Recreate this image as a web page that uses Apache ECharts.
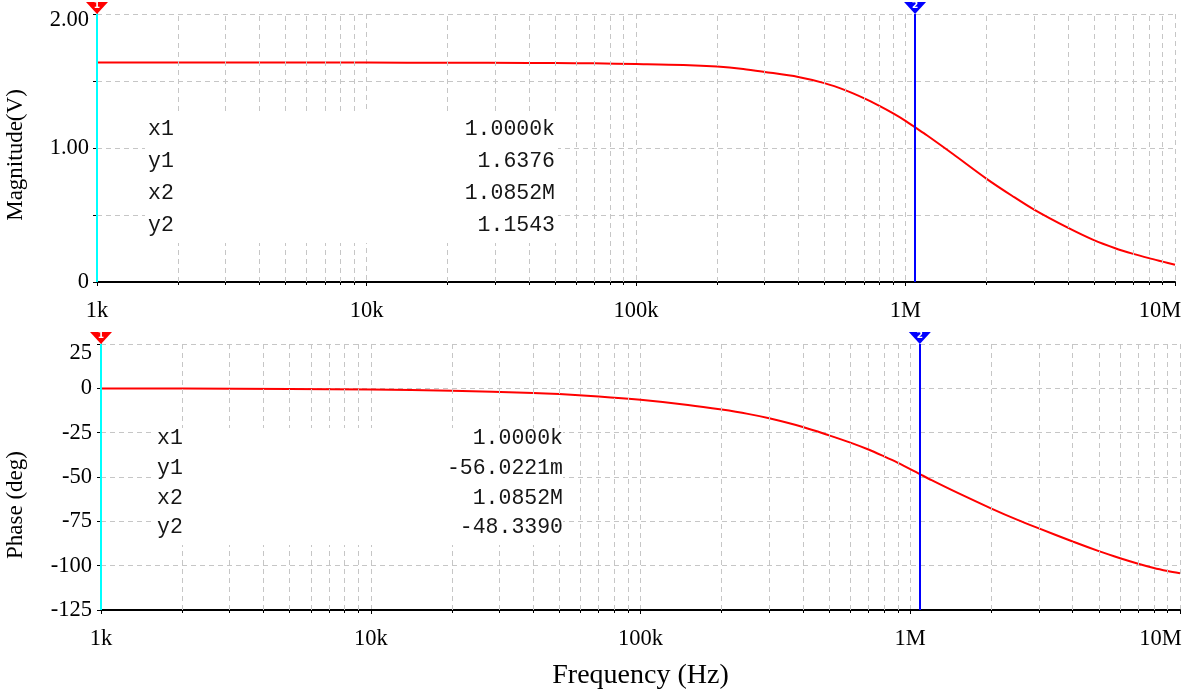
<!DOCTYPE html>
<html>
<head>
<meta charset="utf-8">
<title>Frequency response</title>
<script src="https://cdn.jsdelivr.net/npm/echarts@6/dist/echarts.min.js"></script>
<style>
  html, body { margin: 0; padding: 0; background: #fff; }
  #chart { width: 1186px; height: 697px; }
</style>
</head>
<body>
<div id="chart"></div>
<script>
// Sweep frequencies (Hz)
const freqHz = [1e3, 2e3, 5e3, 1e4, 2e4, 4e4, 5e4, 7e4, 1e5, 1.5e5, 2e5, 2.5e5, 3e5, 4e5, 5e5,
  6e5, 7e5, 8e5, 9e5, 1e6, 1.0852e6, 1.2e6, 1.5e6, 2e6, 2.5e6, 3e6, 4e6, 5e6, 6e6, 7e6, 8e6, 9e6, 1e7];

// Output magnitude (V)
const magnitudeV = [1.6376, 1.6375, 1.6374, 1.6372, 1.6366, 1.6352, 1.6342, 1.6318, 1.627, 1.620,
  1.608, 1.590, 1.568, 1.530, 1.484, 1.430, 1.372, 1.314, 1.258, 1.203, 1.1543, 1.095, 0.955,
  0.770, 0.640, 0.540, 0.405, 0.312, 0.252, 0.210, 0.178, 0.152, 0.129];

// Output phase (deg)
const phaseDeg = [-0.0560221, -0.12, -0.32, -0.65, -1.3, -2.6, -3.25, -4.6, -6.5, -9.4,
  -12.0, -14.4, -16.9, -21.8, -26.5, -30.6, -34.5, -38.4, -42.0, -45.5, -48.339, -51.8, -59.0,
  -67.8, -74.2, -79.0, -86.4, -91.8, -95.8, -98.9, -101.3, -103.0, -104.3];

// Cursor readouts
const cursorX = [1000, 1085200];
const magCursorY = [1.6376, 1.1543];
const phaseCursorY = [-0.0560221, -48.3390];
const cursorNames = ['x1', 'y1', 'x2', 'y2'];

// Axis ticks and labels
const decadeLabels = ['1k', '10k', '100k', '1M', '10M'];
const magLabelValues = [0, 1, 2];
const magLabelText = ['0', '1.00', '2.00'];
const minorMultipliers = [2, 3, 4, 5, 6, 7, 8, 9];
const decadesHz = [1e3, 1e4, 1e5, 1e6];

const SERIF = '"Liberation Serif", "Times New Roman", serif';
const MONO = '"Liberation Mono", "Courier New", monospace';
const GRID_GRAY = '#c6c6c6';

function eng(v) {
  const a = Math.abs(v);
  let d = v, s = '';
  if (a >= 1e6) { d = v / 1e6; s = 'M'; }
  else if (a >= 1e3) { d = v / 1e3; s = 'k'; }
  else if (a > 0 && a < 0.1) { d = v * 1e3; s = 'm'; }
  return d.toFixed(4) + s;
}

function decadeLabel(v) {
  const i = Math.round(Math.log10(v)) - 3;
  const t = decadeLabels[i];
  return i === decadeLabels.length - 1 ? '{end|' + t + '}' : t;
}

const minorGridHz = [];
decadesHz.forEach(d => minorMultipliers.forEach(m => minorGridHz.push(d * m)));

function xAxisFor(idx, endPad) {
  return {
    type: 'log', logBase: 10, gridIndex: idx, min: 1e3, max: 1e7,
    axisLine: { onZero: false, lineStyle: { color: '#000', width: 2 } },
    axisTick: { show: true, length: 4, lineStyle: { color: '#000', width: 1 } },
    minorTick: { show: true, splitNumber: 9, length: 3, lineStyle: { color: '#000' } },
    splitLine: { show: true, lineStyle: { color: GRID_GRAY, type: [5, 4], width: 1 } },
    axisLabel: {
      formatter: decadeLabel, margin: 18, color: '#000', fontFamily: SERIF, fontSize: 22.5,
      rich: { end: { padding: [0, endPad, 0, 0], color: '#000', fontFamily: SERIF, fontSize: 22.5 } }
    }
  };
}

const gridMarkLine = {
  silent: true, symbol: ['none', 'none'], label: { show: false },
  lineStyle: { color: GRID_GRAY, type: [5, 4], width: 1 },
  data: minorGridHz.map(f => ({ xAxis: f }))
};

function cursorSeries(xi, yMax) {
  return {
    type: 'line', xAxisIndex: xi, yAxisIndex: xi, data: [], z: 5, silent: true,
    markLine: {
      silent: true, symbol: ['none', 'none'], label: { show: false },
      lineStyle: { type: 'solid', width: 2 },
      data: [
        { xAxis: cursorX[0], lineStyle: { color: '#00ffff', type: 'solid', width: 2 } },
        { xAxis: cursorX[1], lineStyle: { color: '#0000ff', type: 'solid', width: 2 } }
      ]
    },
    markPoint: {
      silent: true, symbol: 'triangle', symbolSize: [22, 12], symbolRotate: 180, symbolOffset: [0, -6],
      label: { show: true, position: 'inside', color: '#fff', fontSize: 9, fontWeight: 'bold', offset: [0, -2], fontFamily: 'DejaVu Sans' },
      data: [
        { coord: [cursorX[0], yMax], itemStyle: { color: '#ff0000' }, label: { formatter: '1' } },
        { coord: [cursorX[1], yMax], itemStyle: { color: '#0000ff' }, label: { formatter: '2' } }
      ]
    }
  };
}

function readout(x0, x1, rows, yVals) {
  const els = [];
  rows.forEach((r, i) => {
    els.push({ type: 'text', z: 101, style: { text: cursorNames[i], x: x0, y: yVals[i], font: '21.5px ' + MONO, fill: '#161616', align: 'left', verticalAlign: 'middle', textAlign: 'left', textVerticalAlign: 'middle' } });
    els.push({ type: 'text', z: 101, style: { text: r, x: x1, y: yVals[i], font: '21.5px ' + MONO, fill: '#161616', align: 'right', verticalAlign: 'middle', textAlign: 'right', textVerticalAlign: 'middle' } });
  });
  return els;
}

const magRows = [eng(cursorX[0]), eng(magCursorY[0]), eng(cursorX[1]), eng(magCursorY[1])];
const phaseRows = [eng(cursorX[0]), eng(phaseCursorY[0]), eng(cursorX[1]), eng(phaseCursorY[1])];

const option = {
  animation: false,
  backgroundColor: '#ffffff',
  grid: [
    { left: 97, top: 14, right: 11, height: 268, outerBoundsMode: 'none', containLabel: false },
    { left: 101, top: 344, right: 6, height: 266, outerBoundsMode: 'none', containLabel: false }
  ],
  xAxis: [
    xAxisFor(0, 30),
    Object.assign(xAxisFor(1, 39), {
      name: 'Frequency (Hz)', nameLocation: 'middle', nameGap: 52,
      nameTextStyle: { color: '#000', fontFamily: SERIF, fontSize: 28 }
    })
  ],
  yAxis: [
    {
      type: 'value', gridIndex: 0, min: 0, max: 2, interval: 0.5,
      name: 'Magnitude(V)', nameLocation: 'middle', nameGap: 70,
      nameTextStyle: { color: '#000', fontFamily: SERIF, fontSize: 23, padding: [0, 14, 0, 0] },
      axisLine: { show: true, lineStyle: { color: '#000', width: 1 } },
      axisTick: { show: true, length: 4, lineStyle: { color: '#000' } },
      splitLine: { show: true, lineStyle: { color: GRID_GRAY, type: [5, 4], width: 1 } },
      axisLabel: {
        margin: 8, color: '#000', fontFamily: SERIF, fontSize: 22.5,
        formatter: v => {
          const k = magLabelValues.indexOf(v);
          if (k < 0) return '';
          return v === 2 ? '{top|' + magLabelText[k] + '}' : magLabelText[k];
        },
        rich: { top: { padding: [12, 0, 0, 0], color: '#000', fontFamily: SERIF, fontSize: 22.5 } }
      }
    },
    {
      type: 'value', gridIndex: 1, min: -125, max: 25, interval: 25,
      name: 'Phase (deg)', nameLocation: 'middle', nameGap: 74,
      nameTextStyle: { color: '#000', fontFamily: SERIF, fontSize: 23, padding: [0, 56, 0, 0] },
      axisLine: { show: true, lineStyle: { color: '#000', width: 1 } },
      axisTick: { show: true, length: 4, lineStyle: { color: '#000' } },
      splitLine: { show: true, lineStyle: { color: GRID_GRAY, type: [5, 4], width: 1 } },
      axisLabel: {
        margin: 9, color: '#000', fontFamily: SERIF, fontSize: 22.5,
        formatter: v => v === 25 ? '{top|25}' : String(v),
        rich: { top: { padding: [18, 0, 0, 0], color: '#000', fontFamily: SERIF, fontSize: 22.5 } }
      }
    }
  ],
  series: [
    { type: 'line', xAxisIndex: 0, yAxisIndex: 0, data: [], z: 1, silent: true, markLine: gridMarkLine },
    { type: 'line', xAxisIndex: 1, yAxisIndex: 1, data: [], z: 1, silent: true, markLine: gridMarkLine },
    {
      name: 'Magnitude', type: 'line', xAxisIndex: 0, yAxisIndex: 0, z: 3,
      data: freqHz.map((f, i) => [f, magnitudeV[i]]),
      showSymbol: false, smooth: 0.3,
      lineStyle: { color: '#ff0000', width: 2 }
    },
    {
      name: 'Phase', type: 'line', xAxisIndex: 1, yAxisIndex: 1, z: 3,
      data: freqHz.map((f, i) => [f, phaseDeg[i]]),
      showSymbol: false, smooth: 0.3,
      lineStyle: { color: '#ff0000', width: 2 }
    },
    cursorSeries(0, 2),
    cursorSeries(1, 25)
  ],
  graphic: [
    { type: 'rect', z: 100, silent: true, shape: { x: 145, y: 113, width: 413, height: 130 }, style: { fill: '#ffffff' } },
    { type: 'rect', z: 100, silent: true, shape: { x: 152, y: 428, width: 411, height: 117 }, style: { fill: '#ffffff' } }
  ]
    .concat(readout(148, 555, magRows, [129, 161, 193, 225]))
    .concat(readout(157, 563, phaseRows, [438, 468, 498, 527]))
};

const chart = echarts.init(document.getElementById('chart'), null, { renderer: 'canvas' });
chart.setOption(option);
</script>
</body>
</html>
